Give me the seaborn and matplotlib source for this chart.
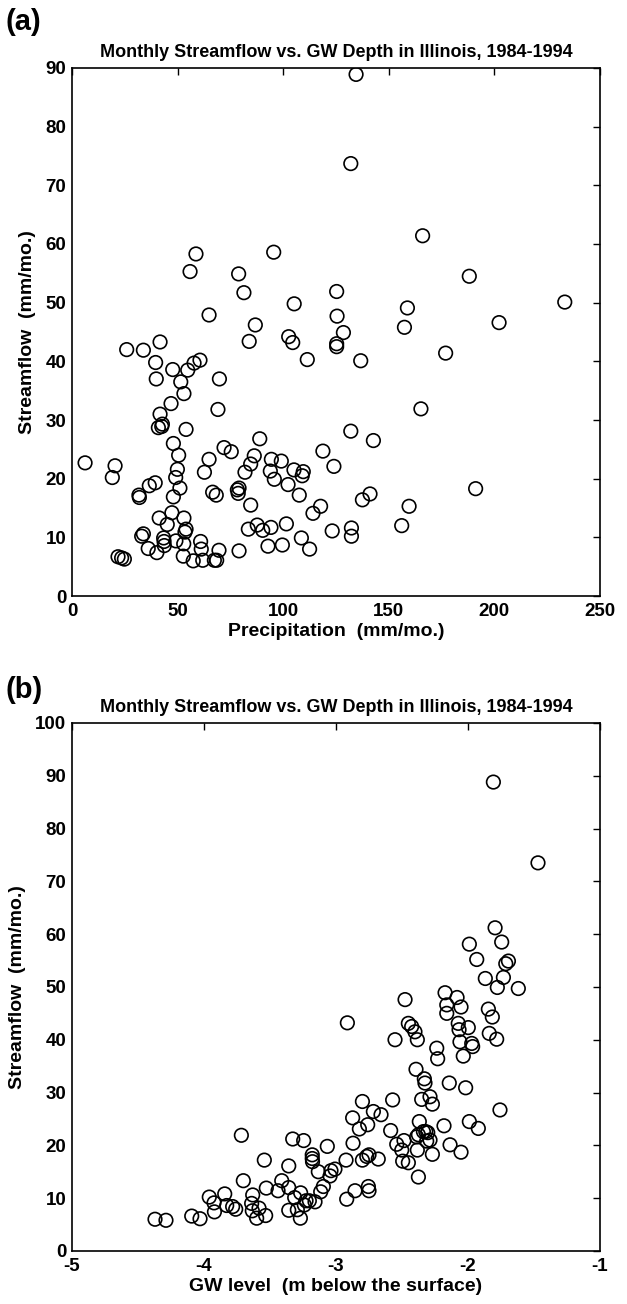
import pandas as pd
import matplotlib
matplotlib.use('Agg')
import matplotlib.pyplot as plt
import seaborn as sns

# panel (a): precipitation vs streamflow (mm/mo.)
precip = [6.2, 19.1, 20.4, 21.8, 23.5, 24.8, 25.9, 31.7, 31.9, 33.0, 33.8, 33.8, 36.1, 36.6,
          39.4, 39.6, 39.9, 40.2, 40.9, 41.3, 41.7, 41.7, 42.5, 42.8, 43.4, 43.6, 43.7, 45.1,
          46.9, 47.3, 47.7, 48.0, 48.0, 49.1, 49.2, 49.9, 50.5, 51.1, 51.5, 52.7, 52.9, 53.0,
          53.0, 53.5, 54.0, 54.0, 54.8, 55.9, 57.4, 57.8, 58.7, 60.6, 60.9, 61.2, 61.9, 62.7,
          64.9, 64.9, 66.6, 67.4, 68.3, 68.5, 69.1, 69.6, 69.8, 72.0, 75.4, 78.3, 78.7, 79.1,
          78.9, 79.1, 81.4, 81.9, 83.5, 83.9, 84.6, 84.6, 86.3, 86.8, 87.7, 88.9, 90.3, 92.8,
          93.9, 94.2, 94.4, 95.5, 95.8, 99.1, 99.6, 101.5, 102.3, 102.6, 104.5, 105.1, 105.2,
          107.6, 108.6, 109.0, 109.5, 111.4, 112.5, 114.1, 117.7, 118.8, 123.2, 124.0, 125.3,
          125.5, 125.3, 125.3, 128.5, 132.0, 132.0, 132.3, 132.3, 134.5, 136.7, 137.5, 141.1,
          142.7, 156.1, 157.4, 158.8, 159.6, 165.2, 166.0, 176.9, 188.1, 191.1, 202.2, 233.3]
flow_a = [22.7, 20.2, 22.2, 6.7, 6.5, 6.3, 42.0, 17.2, 16.8, 10.2, 10.6, 41.9, 8.1, 18.8,
          19.3, 39.8, 37.0, 7.4, 28.7, 13.3, 31.0, 43.3, 28.9, 29.3, 9.9, 9.3, 8.6, 12.2,
          32.8, 14.2, 38.6, 26.0, 16.9, 20.2, 9.4, 21.6, 24.0, 18.4, 36.5, 6.8, 8.9, 13.3,
          34.5, 10.9, 11.4, 28.4, 38.5, 55.3, 6.0, 39.7, 58.3, 40.2, 9.3, 8.0, 6.1, 21.1,
          23.3, 47.9, 17.7, 6.1, 17.2, 6.1, 31.8, 7.8, 37.0, 25.3, 24.6, 18.1, 17.5, 18.4,
          54.9, 7.7, 51.7, 21.1, 11.4, 43.4, 22.5, 15.5, 23.9, 46.2, 12.1, 26.8, 11.2, 8.5,
          21.3, 11.7, 23.3, 58.6, 19.9, 23.0, 8.7, 12.3, 19.0, 44.2, 43.2, 21.5, 49.8,
          17.2, 9.9, 20.5, 21.2, 40.3, 8.0, 14.1, 15.3, 24.7, 11.1, 22.1, 51.9,
          47.7, 43.0, 42.5, 44.9, 73.7, 28.1, 11.6, 10.2, 88.9, 40.1, 16.4, 17.4,
          26.5, 12.0, 45.8, 49.1, 15.3, 31.9, 61.4, 41.4, 54.5, 18.3, 46.6, 50.1]

# panel (b): groundwater level (m below surface) vs streamflow
gw_level = [-4.371, -4.288, -4.093, -4.030, -3.960, -3.924, -3.921, -3.843, -3.828, -3.783,
            -3.760, -3.717, -3.702, -3.631, -3.639, -3.634, -3.601, -3.583, -3.533, -3.543,
            -3.528, -3.439, -3.411, -3.358, -3.358, -3.328, -3.245, -3.358, -3.293, -3.270,
            -3.313, -3.268, -3.240, -3.227, -3.202, -3.159, -3.180, -3.180, -3.178, -3.134,
            -3.116, -3.096, -3.045, -3.038, -3.008, -3.066, -2.919, -2.856, -2.755, -2.750,
            -2.924, -2.871, -2.914, -2.874, -2.823, -2.800, -2.760, -2.717, -2.659, -2.800,
            -2.767, -2.750, -2.680, -2.586, -2.571, -2.553, -2.540, -2.502, -2.485, -2.452,
            -2.495, -2.477, -2.452, -2.427, -2.402, -2.384, -2.394, -2.331, -2.326, -2.351,
            -2.288, -2.270, -2.369, -2.389, -2.384, -2.376, -2.338, -2.320, -2.305, -2.313,
            -2.288, -2.270, -2.376, -2.237, -2.230, -2.182, -2.136, -2.142, -2.174, -2.161,
            -2.161, -2.083, -2.053, -2.074, -2.068, -2.061, -2.036, -1.998, -1.972, -1.965,
            -2.053, -2.018, -1.990, -1.922, -1.758, -1.846, -1.816, -1.839, -1.783, -1.869,
            -1.778, -1.732, -1.619, -1.808, -1.470, -1.795, -1.990, -1.745, -1.934, -1.714,
            -1.694]
flow_b = [6.0, 5.8, 6.6, 6.1, 10.2, 9.1, 7.4, 10.8, 8.6, 8.4,
          7.9, 21.9, 13.3, 10.6, 9.0, 7.6, 6.2, 8.1, 6.7, 17.2,
          11.9, 11.4, 13.3, 12.0, 16.1, 21.2, 20.9, 7.7, 7.8, 6.2,
          10.1, 11.0, 8.7, 9.5, 9.5, 9.3, 18.2, 17.5, 16.9, 15.0,
          11.2, 12.2, 14.2, 15.2, 15.5, 19.8, 9.8, 11.4, 12.2, 11.4,
          17.2, 20.4, 43.2, 25.2, 23.1, 28.3, 23.9, 26.4, 25.8, 17.2,
          17.9, 18.2, 17.4, 22.8, 28.6, 40.0, 20.2, 19.1, 20.9, 16.7,
          17.0, 47.6, 43.1, 42.5, 41.5, 40.0, 34.4, 32.6, 31.8, 28.7,
          29.2, 27.8, 24.5, 21.6, 19.1, 22.0, 22.6, 22.6, 22.4, 20.8,
          21.0, 18.3, 14.0, 38.4, 36.4, 23.7, 20.1, 31.8, 48.9, 46.6,
          45.0, 48.0, 46.2, 43.1, 41.9, 39.6, 36.9, 42.3, 39.3, 38.7,
          18.7, 30.9, 24.5, 23.2, 26.7, 45.8, 44.3, 41.2, 40.1, 51.6,
          49.9, 51.8, 49.7, 88.8, 73.5, 61.2, 58.1, 58.5, 55.2, 54.4,
          54.9]

TITLE = 'Monthly Streamflow vs. GW Depth in Illinois, 1984-1994'

sns.set_style('white')
plt.rcParams['font.family'] = ['Liberation Sans', 'DejaVu Sans']
plt.rcParams['font.weight'] = 'bold'
plt.rcParams['axes.unicode_minus'] = False
plt.rcParams['text.color'] = 'black'
plt.rcParams['axes.labelcolor'] = 'black'
plt.rcParams['xtick.color'] = 'black'
plt.rcParams['ytick.color'] = 'black'

fig = plt.figure(figsize=(6.27, 13.04), dpi=100)
ax_a = fig.add_axes([0.1148, 0.5429, 0.8422, 0.4050])
ax_b = fig.add_axes([0.1148, 0.0407, 0.8422, 0.4049])

df_a = pd.DataFrame({'precip': precip, 'flow': flow_a})
df_b = pd.DataFrame({'gw': gw_level, 'flow': flow_b})

marker_kw = dict(marker='o', s=95, facecolor='none', edgecolor='black', linewidth=1.2)
sns.scatterplot(data=df_a, x='precip', y='flow', ax=ax_a, **marker_kw)
sns.scatterplot(data=df_b, x='gw', y='flow', ax=ax_b, **marker_kw)


def style_axes(ax, xlim, ylim, xticks, yticks, xlabel):
    ax.set_xlim(*xlim)
    ax.set_ylim(*ylim)
    ax.set_xticks(xticks)
    ax.set_yticks(yticks)
    ax.tick_params(direction='in', length=5, width=1, top=True, right=True,
                   labelsize=13.5, colors='black')
    ax.tick_params(axis='x', pad=5)
    ax.tick_params(axis='y', pad=4)
    for lab in ax.get_xticklabels() + ax.get_yticklabels():
        lab.set_fontweight('bold')
    for sp in ax.spines.values():
        sp.set_visible(True)
        sp.set_color('black')
        sp.set_linewidth(1.2)
    ax.set_xlabel(xlabel, fontsize=14, fontweight='bold', labelpad=2, color='black')
    ax.set_ylabel('Streamflow  (mm/mo.)', fontsize=14, fontweight='bold', labelpad=7,
                  color='black')
    ax.set_title(TITLE, fontsize=13, fontweight='bold', pad=8, color='black')


style_axes(ax_a, (0, 250), (0, 90), range(0, 251, 50), range(0, 91, 10),
           'Precipitation  (mm/mo.)')
style_axes(ax_b, (-5, -1), (0, 100), range(-5, 0), range(0, 101, 10),
           'GW level  (m below the surface)')

fig.text(0.008, 0.983, '(a)', fontsize=21, fontweight='bold', va='center', color='black')
fig.text(0.008, 0.471, '(b)', fontsize=21, fontweight='bold', va='center', color='black')

fig.savefig('out.png', dpi=100, facecolor='white')
